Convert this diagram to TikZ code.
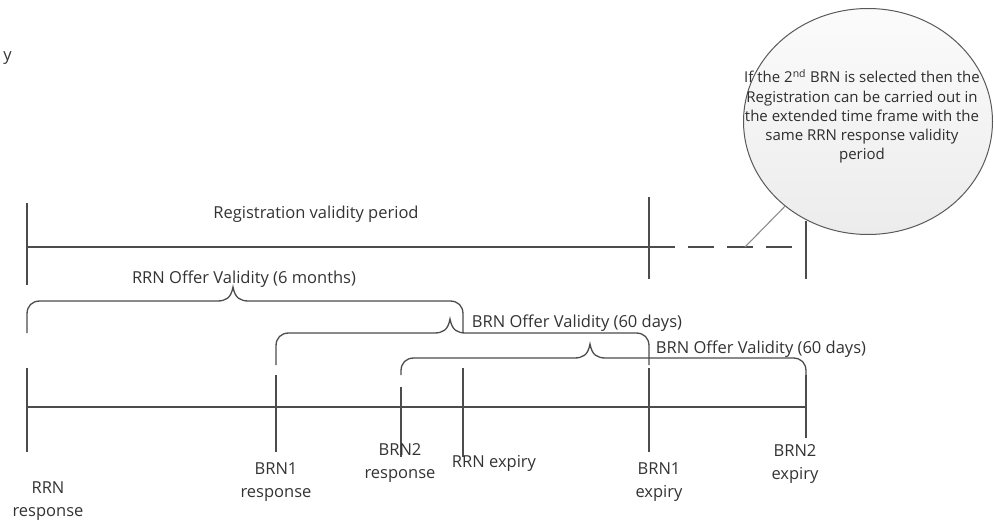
\documentclass[tikz,border=0pt]{standalone}
\usepackage{fontspec}
\setmainfont{Open Sans}
\usetikzlibrary{shapes.geometric}
\newcommand\mybrace[6]{% x left, x right, x cusp, y top, y bottom left, y bottom right
  \draw[ln] ({#1},{#5}) -- ({#1},{#4+13}) .. controls ({#1},{#4+5}) and ({#1+5},{#4}) .. ({#1+13},{#4})
   -- ({#3-16},{#4}) .. controls ({#3-7},{#4}) and ({#3-2},{#4-3}) .. ({#3},{#4-14})
   .. controls ({#3+2},{#4-3}) and ({#3+7},{#4}) .. ({#3+16},{#4})
   -- ({#2-13},{#4}) .. controls ({#2-5},{#4}) and ({#2},{#4+5}) .. ({#2},{#4+13}) -- ({#2},{#6});}
\begin{document}
\begin{tikzpicture}[x=1pt,y=-1pt,
  ln/.style={draw=black!70, line width=1.3pt},
  lbl/.style={text=black!80, font=\fontsize{16.5}{22.5}\selectfont, inner sep=0pt, align=center},
  notetxt/.style={text=black!82, font=\fontsize{15}{19.3}\selectfont, inner sep=0pt, align=center}]
\useasboundingbox (0,0) rectangle (994,522);

% cropped fragment at left edge
\node[lbl, anchor=east] (frag) at (12,58) {y};

% registration validity period
\coordinate (regStart) at (27,247);
\coordinate (regEnd) at (649,247);
\coordinate (extEnd) at (806,247);
\coordinate (callout) at (745,247);
\draw[ln] (regStart) -- (regEnd);
\draw[ln, dash pattern=on 26pt off 13pt] (regEnd) -- (extEnd);
\draw[ln] (27,203) -- (27,285);
\draw[ln] (649,197) -- (649,279);
\draw[ln] (806,221) -- (806,279);
\node[lbl] (regtxt) at (316,214) {Registration validity period};

% braces
\mybrace{27}{463}{233}{301}{333}{333}
\node[lbl] (rrnoffer) at (244,279) {RRN Offer Validity (6 months)};
\mybrace{276}{649}{450}{333}{365}{365}
\node[lbl] (brnoffer1) at (577,323) {BRN Offer Validity (60 days)};
\mybrace{401}{806}{590}{358}{375}{375}
\node[lbl] (brnoffer2) at (761,349) {BRN Offer Validity (60 days)};

% main timeline
\coordinate (tlStart) at (27,407);
\coordinate (tlEnd) at (806,407);
\draw[ln] (tlStart) -- (tlEnd);
\draw[ln] (27,368) -- (27,452);
\draw[ln] (276,375) -- (276,452);
\draw[ln] (401,387) -- (401,457);
\draw[ln] (463,368) -- (463,457);
\draw[ln] (649,368) -- (649,452);
\draw[ln] (806,375) -- (806,438);

% labels
\node[lbl] (rrnresp) at (48,501) {RRN\\response};
\node[lbl] (brn1resp) at (276,482) {BRN1\\response};
\node[lbl] (brn2resp) at (400,463) {BRN2\\response};
\node[lbl] (rrnexp) at (494,463) {RRN expiry};
\node[lbl] (brn1exp) at (659,482) {BRN1\\expiry};
\node[lbl] (brn2exp) at (795,464) {BRN2\\expiry};

% callout
\node[ellipse, draw=black!65, line width=1pt, top color=gray!3, bottom color=gray!15,
      minimum width=249pt, minimum height=226pt, inner sep=0pt] (note) at (868,121.5) {};
\draw[draw=black!45, line width=1.1pt] (callout) -- (note);
\node[notetxt] (notetext) at (862,116.5) {If the 2\textsuperscript{nd} BRN is selected then the\\Registration can be carried out in\\the extended time frame with the\\same RRN response validity\\period};
\end{tikzpicture}
\end{document}
